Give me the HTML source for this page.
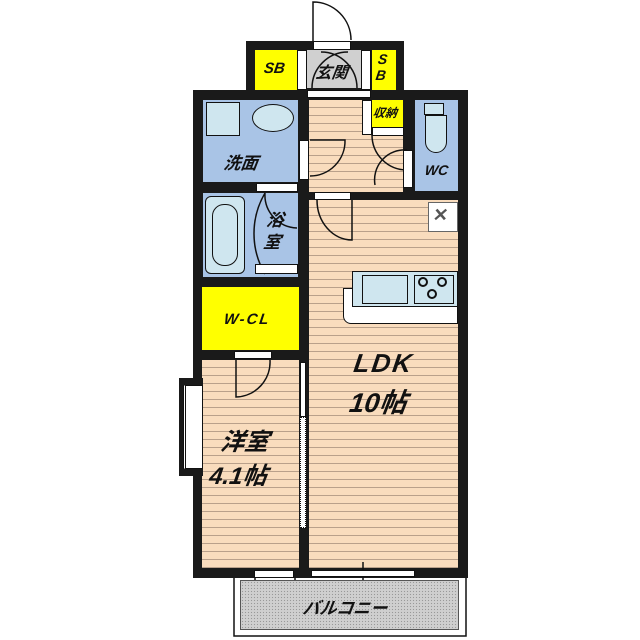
<!DOCTYPE html>
<html><head><meta charset="utf-8"><style>
body{margin:0;width:640px;height:640px;background:#fff;position:relative;overflow:hidden;font-family:"Liberation Sans","Noto Sans CJK JP",sans-serif}
div{position:absolute;box-sizing:border-box}
.blk{background:#1a1a1a}
.wood{background:repeating-linear-gradient(to bottom,#f9dcbd 0,#f9dcbd 7px,#b9a08a 7px,#b9a08a 8px)}
.blue{background:#a9c4e6}
.yel{background:#ffff00}
.t{font-weight:bold;font-style:italic;color:#111;white-space:nowrap;transform:skewX(-8deg)}
.wd{background:#fff;border:1.5px solid #111}
</style></head><body>
<div class="blk" style="left:246px;top:41px;width:158px;height:55px"></div>
<div class="blk" style="left:193px;top:90px;width:275px;height:488px"></div>
<div class="yel" style="left:255px;top:50px;width:42px;height:40px"></div>
<div style="left:307px;top:50px;width:54px;height:38px;background:#d0d0d0"></div>
<div class="yel" style="left:372px;top:50px;width:24px;height:40px"></div>
<div class="t" style="left:264px;top:60px;font-size:15px">SB</div>
<div class="t" style="left:316px;top:59px;font-size:16px">玄関</div>
<div class="t" style="left:377px;top:51px;font-size:14px;line-height:16px">S<br>B</div>
<div class="blue" style="left:203px;top:100px;width:95px;height:82px"></div>
<div class="blue" style="left:203px;top:193px;width:95px;height:84px"></div>
<div class="yel" style="left:202px;top:287px;width:97px;height:63px"></div>
<div class="wood" style="left:202px;top:360px;width:97px;height:208px"></div>
<div class="wood" style="left:309px;top:100px;width:94px;height:92px"></div>
<div class="yel" style="left:372px;top:100px;width:31px;height:27px"></div>
<div class="blue" style="left:415px;top:100px;width:43px;height:91px"></div>
<div class="wood" style="left:309px;top:200px;width:149px;height:368px"></div>
<div style="left:206px;top:102px;width:34px;height:34px;background:#cfe6ef;border:1.5px solid #111"></div>
<div style="left:252px;top:104px;width:42px;height:28px;background:#cfe6ef;border:1.5px solid #111;border-radius:50%"></div>
<div style="left:205px;top:196px;width:40px;height:78px;background:#cfe6ef;border:1.5px solid #111;border-radius:6px"></div>
<div style="left:212px;top:204px;width:26px;height:62px;border:1.5px solid #111;border-radius:12px"></div>
<div style="left:424px;top:103px;width:20px;height:12px;background:#cfe6ef;border:1.5px solid #111"></div>
<div style="left:425px;top:115px;width:22px;height:38px;background:#cfe6ef;border:1.5px solid #111;border-radius:0 0 11px 11px"></div>
<div style="left:428px;top:202px;width:30px;height:30px;background:#fff;border:1px solid #666"></div>
<div class="t" style="left:433px;top:205px;font-size:18px;color:#555;font-style:normal">✕</div>
<div style="left:343px;top:288px;width:115px;height:36px;background:#fff;border:1.5px solid #111;border-radius:0 0 0 8px"></div>
<div style="left:352px;top:271px;width:106px;height:36px;background:#cfe6ef;border:1.5px solid #111"></div>
<div style="left:362px;top:275px;width:46px;height:29px;border:1.5px solid #111"></div>
<div style="left:414px;top:275px;width:40px;height:29px;border:1.5px solid #111"></div>
<div style="left:418px;top:277px;width:10px;height:10px;border:2px solid #111;border-radius:50%"></div>
<div style="left:437px;top:277px;width:10px;height:10px;border:2px solid #111;border-radius:50%"></div>
<div style="left:427px;top:289px;width:10px;height:10px;border:2px solid #111;border-radius:50%"></div>
<svg style="position:absolute;left:0;top:0" width="640" height="640">
<g fill="none" stroke="#111" stroke-width="1.5">
<path d="M313 42 V2 A38 38 0 0 1 351 40"/>
<path d="M312 88 A36 36 0 0 1 348 52 M357 88 A36 36 0 0 0 321 52"/>
<path d="M310 140 H345 A35 35 0 0 1 310 176"/>
<path d="M372 135 A35 35 0 0 0 407 170 M407 150 A30 30 0 0 0 375 185"/>
<path d="M317 200 A35 40 0 0 0 352 240 V200"/>
<path d="M265 193 A33 33 0 0 0 297 228 M265 193 A80 80 0 0 0 265 274"/>
<path d="M236 360 V397 A35 35 0 0 0 270 360"/>
<path d="M255 578 V620 A40 40 0 0 0 295 578"/>
<path d="M363 562 V590 M180 428 H198"/>
<path d="M234 578 V636 H466 V578" stroke-width="1.5"/>
</g>
</svg>
<div class="wd" style="left:313px;top:41px;width:38px;height:9px"></div>
<div class="wd" style="left:297px;top:50px;width:10px;height:40px"></div>
<div class="wd" style="left:361px;top:50px;width:10px;height:40px"></div>
<div class="wd" style="left:307px;top:90px;width:64px;height:8px"></div>
<div class="wd" style="left:362px;top:100px;width:10px;height:35px"></div>
<div class="wd" style="left:372px;top:127px;width:32px;height:9px"></div>
<div class="wd" style="left:299px;top:140px;width:10px;height:40px"></div>
<div class="wd" style="left:403px;top:150px;width:10px;height:38px"></div>
<div class="wd" style="left:256px;top:183px;width:42px;height:9px"></div>
<div class="wd" style="left:314px;top:192px;width:37px;height:8px"></div>
<div class="wd" style="left:255px;top:264px;width:43px;height:10px"></div>
<div class="wd" style="left:234px;top:351px;width:38px;height:8px"></div>
<div class="wd" style="left:300px;top:362px;width:6px;height:55px"></div>
<div class="wd" style="left:300px;top:417px;width:6px;height:111px;border-style:dotted"></div>
<div class="wd" style="left:254px;top:570px;width:40px;height:8px"></div>
<div class="wd" style="left:311px;top:570px;width:104px;height:7px"></div>
<div class="blk" style="left:179px;top:378px;width:24px;height:98px"></div>
<div style="left:183px;top:385px;width:20px;height:84px;background:#fff;border:1px solid #111;border-left:3px double #111"></div>
<div style="left:240px;top:580px;width:219px;height:50px;background:#cfcfcf;background-image:radial-gradient(#999 0.7px,transparent 0.8px);background-size:3px 3px;border:1px solid #555"></div>
<div class="t" style="left:224px;top:149px;font-size:17px">洗面</div>
<div class="t" style="left:265px;top:210px;font-size:17px;line-height:22px">浴<br>室</div>
<div class="t" style="left:425px;top:162px;font-size:14px">WC</div>
<div class="t" style="left:373px;top:104px;font-size:12px">収納</div>
<div class="t" style="left:224px;top:311px;font-size:15px;letter-spacing:2px">W-CL</div>
<div class="t" style="left:221px;top:422px;font-size:24px">洋室</div>
<div class="t" style="left:210px;top:456px;font-size:24px">4.1帖</div>
<div class="t" style="left:354px;top:348px;font-size:26px;letter-spacing:2px">LDK</div>
<div class="t" style="left:350px;top:381px;font-size:27px">10帖</div>
<div class="t" style="left:303px;top:594px;font-size:17px">バルコニー</div>
</body></html>
